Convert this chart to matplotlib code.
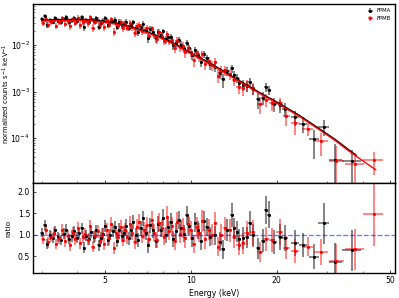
import numpy as np
import matplotlib
matplotlib.use('Agg')
import matplotlib.pyplot as plt
from matplotlib.ticker import FixedLocator, NullFormatter, FormatStrFormatter, LogLocator

plt.rcParams['font.size'] = 9

# model curves (keV, counts s^-1 keV^-1)
model_e_a = [3.0, 3.5, 4.0, 4.5, 5.0, 5.5, 6.0, 7.0, 8.0, 9.0, 10.0, 12.0, 14.0, 16.0, 18.0,
             20.0, 24.0, 28.0, 32.0, 36.0, 38.0]
model_a = [0.0340, 0.0350, 0.0352, 0.0345, 0.0320, 0.0290, 0.0258, 0.0195, 0.0140, 0.0098,
           0.0068, 0.0037, 0.0021, 0.00130, 0.00085, 0.00060, 0.00031, 0.000165, 0.000095,
           0.000055, 0.000043]
model_e_b = [3.0, 3.5, 4.0, 4.5, 5.0, 5.5, 6.0, 7.0, 8.0, 9.0, 10.0, 12.0, 14.0, 16.0, 18.0,
             20.0, 24.0, 28.0, 32.0, 36.0, 40.0, 44.5]
model_b = [0.0325, 0.0334, 0.0336, 0.0329, 0.0305, 0.0277, 0.0246, 0.0186, 0.0134, 0.0094,
           0.0065, 0.00354, 0.00201, 0.00124, 0.00081, 0.00057, 0.000295, 0.000157, 0.000090,
           0.000052, 0.000033, 0.000021]

# FPMA (black)
e_a1 = [3.00, 3.07, 3.14, 3.21, 3.28, 3.35, 3.42, 3.50, 3.58, 3.66, 3.74, 3.82, 3.90, 3.98, 4.06,
        4.14, 4.22, 4.30, 4.39, 4.48, 4.57, 4.66, 4.75, 4.84, 4.93, 5.02, 5.12, 5.22, 5.32, 5.42,
        5.52, 5.62, 5.72]
e_a2 = [5.83, 5.94, 6.05, 6.17, 6.29, 6.41, 6.54, 6.67, 6.80, 6.94, 7.08, 7.22, 7.37, 7.52, 7.67,
        7.83, 7.99, 8.16, 8.33, 8.50, 8.68, 8.87, 9.06, 9.26, 9.46, 9.67, 9.89, 10.1, 10.35, 10.6,
        10.85, 11.1, 11.4, 11.7]
e_a3 = [12.2, 12.7, 13.0, 13.4, 13.9, 14.2, 14.5, 14.8, 15.3, 15.7, 16.1, 16.5, 17.2, 17.9, 18.3,
        18.8, 19.6, 20.6, 21.4, 23.2, 24.8, 27.0, 29.2, 32.1, 36.7]
r_a1 = [1.05, 1.22, 0.78, 1.00, 0.92, 1.10, 0.95, 0.88, 1.02, 1.12, 0.90, 0.97, 1.08, 0.93, 1.04,
        1.15, 0.70, 0.98, 0.90, 1.06, 0.95, 1.10, 0.75, 0.92, 1.02, 1.20, 0.88, 1.00, 1.08, 1.18,
        0.85, 1.12, 0.96]
r_a2 = [1.05, 1.20, 0.92, 1.10, 1.30, 1.00, 0.88, 1.15, 1.38, 1.05, 0.75, 1.22, 1.10, 0.85, 1.25,
        1.12, 1.40, 1.00, 1.18, 1.30, 0.90, 1.08, 1.35, 1.15, 1.02, 1.45, 1.20, 0.92, 1.28, 1.10,
        0.85, 1.32, 1.18, 0.95]
r_a3 = [0.99, 0.84, 0.66, 1.11, 1.46, 1.15, 1.07, 0.89, 0.92, 0.94, 1.27, 0.99, 0.68, 0.86, 1.57,
        1.47, 0.84, 0.95, 0.92, 0.81, 0.76, 0.49, 1.27, 0.37, 0.64]
dr_a1 = [0.11, 0.12, 0.11, 0.12, 0.12, 0.11, 0.12, 0.12, 0.13, 0.12, 0.12, 0.13, 0.12, 0.13, 0.12,
         0.13, 0.13, 0.12, 0.13, 0.13, 0.14, 0.13, 0.13, 0.14, 0.13, 0.14, 0.14, 0.13, 0.14, 0.15,
         0.14, 0.15, 0.14]
dr_a2 = [0.15, 0.16, 0.15, 0.16, 0.17, 0.16, 0.16, 0.17, 0.18, 0.17, 0.17, 0.18, 0.18, 0.17, 0.19,
         0.18, 0.20, 0.19, 0.19, 0.20, 0.19, 0.20, 0.21, 0.20, 0.20, 0.22, 0.21, 0.20, 0.22, 0.21,
         0.21, 0.23, 0.22, 0.22]
dr_a3 = [0.22, 0.23, 0.22, 0.25, 0.28, 0.25, 0.25, 0.24, 0.25, 0.25, 0.28, 0.27, 0.25, 0.27, 0.33,
         0.32, 0.28, 0.30, 0.30, 0.30, 0.28, 0.30, 0.48, 0.43, 0.48]
de_a1 = [0.035] * 7 + [0.04] * 11 + [0.045] * 8 + [0.05] * 7
de_a2 = [0.055, 0.055, 0.06, 0.06, 0.06, 0.06, 0.065, 0.065, 0.07, 0.07, 0.07, 0.075, 0.075, 0.075,
         0.08, 0.08, 0.08, 0.085, 0.085, 0.09, 0.09, 0.095, 0.1, 0.1, 0.1, 0.11, 0.11, 0.12, 0.12,
         0.12, 0.12, 0.14, 0.15, 0.15]
de_a3 = [0.2, 0.2, 0.2, 0.22, 0.22, 0.15, 0.15, 0.2, 0.22, 0.2, 0.2, 0.25, 0.3, 0.25, 0.2, 0.3,
         0.4, 0.45, 0.5, 0.8, 0.8, 1.1, 1.3, 1.7, 2.7]

# FPMB (red)
e_b1 = [3.03, 3.10, 3.17, 3.24, 3.31, 3.38, 3.46, 3.54, 3.62, 3.70, 3.78, 3.86, 3.94, 4.02, 4.10,
        4.18, 4.26, 4.35, 4.44, 4.53, 4.62, 4.71, 4.80, 4.89, 4.98, 5.07, 5.17, 5.27, 5.37, 5.47,
        5.57, 5.67, 5.77]
e_b2 = [5.88, 5.99, 6.11, 6.23, 6.35, 6.47, 6.60, 6.73, 6.87, 7.01, 7.15, 7.30, 7.45, 7.60, 7.75,
        7.91, 8.07, 8.24, 8.41, 8.59, 8.77, 8.96, 9.16, 9.36, 9.56, 9.78, 10.0, 10.22, 10.47, 10.72,
        10.97, 11.25, 11.55, 11.85]
e_b3 = [12.2, 12.5, 12.8, 13.2, 13.7, 14.2, 14.7, 15.2, 15.7, 16.5, 17.5, 18.4, 19.3, 20.5, 21.6,
        23.2, 25.7, 28.6, 32.4, 37.6, 43.7]
r_b1 = [0.90, 1.10, 0.82, 0.95, 1.05, 0.78, 0.92, 1.12, 0.85, 0.98, 0.75, 1.05, 0.90, 1.15, 0.80,
        0.95, 1.02, 0.88, 1.20, 0.72, 0.96, 1.08, 0.85, 1.00, 0.78, 1.12, 0.92, 1.25, 0.68, 1.05,
        0.95, 1.18, 0.88]
r_b2 = [1.12, 0.95, 1.25, 1.05, 0.82, 1.18, 1.30, 0.98, 1.10, 1.22, 0.90, 1.35, 1.05, 0.88, 1.28,
        1.15, 0.95, 1.42, 1.08, 1.20, 0.85, 1.30, 1.02, 1.15, 0.92, 1.25, 1.10, 0.78, 1.18, 1.05,
        1.32, 0.90, 1.12, 1.00]
r_b3 = [1.27, 0.72, 0.99, 1.15, 1.10, 0.95, 0.76, 0.80, 1.03, 1.06, 0.60, 0.89, 0.88, 1.07, 0.70,
        0.63, 0.72, 0.60, 0.39, 0.66, 1.48]
dr_b1 = [0.12, 0.13, 0.12, 0.13, 0.13, 0.12, 0.13, 0.14, 0.13, 0.13, 0.12, 0.14, 0.13, 0.14, 0.13,
         0.14, 0.14, 0.13, 0.15, 0.13, 0.14, 0.15, 0.14, 0.15, 0.14, 0.15, 0.15, 0.16, 0.14, 0.16,
         0.15, 0.16, 0.15]
dr_b2 = [0.16, 0.16, 0.18, 0.17, 0.16, 0.18, 0.19, 0.18, 0.19, 0.20, 0.18, 0.21, 0.20, 0.19, 0.22,
         0.21, 0.20, 0.24, 0.21, 0.22, 0.20, 0.24, 0.22, 0.23, 0.22, 0.24, 0.23, 0.21, 0.24, 0.23,
         0.25, 0.23, 0.25, 0.24]
dr_b3 = [0.27, 0.22, 0.25, 0.27, 0.27, 0.26, 0.24, 0.25, 0.28, 0.29, 0.24, 0.28, 0.28, 0.30, 0.27,
         0.28, 0.22, 0.31, 0.40, 0.48, 0.75]
de_b1 = [0.035] * 6 + [0.04] * 11 + [0.045] * 8 + [0.05] * 8
de_b2 = de_a2
de_b3 = [0.15, 0.15, 0.2, 0.22, 0.25, 0.25, 0.25, 0.25, 0.3, 0.35, 0.4, 0.45, 0.45, 0.55, 0.6,
         0.8, 1.1, 1.6, 1.9, 2.9, 3.5]

detectors = [
    ('FPMA', 'k', e_a1 + e_a2 + e_a3, r_a1 + r_a2 + r_a3, dr_a1 + dr_a2 + dr_a3,
     de_a1 + de_a2 + de_a3, model_e_a, model_a),
    ('FPMB', 'r', e_b1 + e_b2 + e_b3, r_b1 + r_b2 + r_b3, dr_b1 + dr_b2 + dr_b3,
     de_b1 + de_b2 + de_b3, model_e_b, model_b),
]

fig = plt.figure(figsize=(6.4, 4.78), dpi=62.35)
ax1 = fig.add_axes([0.083, 0.385, 0.907, 0.6026])
ax2 = fig.add_axes([0.083, 0.083, 0.907, 0.302], sharex=ax1)

for name, col, en, rat, drat, den, me, mv in detectors:
    en = np.array(en)
    rat = np.array(rat)
    drat = np.array(drat)
    # counts = ratio * model at each bin
    mod = 10 ** np.interp(np.log10(en), np.log10(me), np.log10(mv))
    eb = ax1.errorbar(en, rat * mod, yerr=drat * mod, xerr=den, fmt='o', ms=2.5, color=col,
                      elinewidth=1.8, capsize=0, label=name, zorder=2)
    for c in eb[2]:
        c.set_alpha(0.6)
    eb = ax2.errorbar(en, rat, yerr=drat, xerr=den, fmt='o', ms=2.5, color=col,
                      elinewidth=1.8, capsize=0, zorder=2)
    for c in eb[2]:
        c.set_alpha(0.6)

for name, col, en, rat, drat, den, me, mv in detectors:
    ax1.plot(me, mv, color=col, lw=1.6, zorder=3)

ax2.axhline(1.0, color='b', ls='--', lw=1.5, alpha=0.55, zorder=3)

ax1.set_xscale('log')
ax1.set_yscale('log')
ax1.set_xlim(2.8, 52)
ax1.set_ylim(1.08e-5, 0.077)
ax2.set_ylim(0.1, 2.2)

ax2.xaxis.set_major_locator(FixedLocator([5, 10, 20, 50]))
ax2.xaxis.set_major_formatter(FormatStrFormatter('%g'))
ax2.xaxis.set_minor_locator(LogLocator(subs=np.arange(2, 10)))
ax2.xaxis.set_minor_formatter(NullFormatter())
ax2.set_yticks([0.5, 1.0, 1.5, 2.0])
plt.setp(ax1.get_xticklabels(), visible=False)

for ax in (ax1, ax2):
    ax.tick_params(which='both', direction='in')
    for s in ax.spines.values():
        s.set_linewidth(1.6)

ax1.set_ylabel('normalized counts s$^{-1}$ keV$^{-1}$', fontsize=8)
ax2.set_ylabel('ratio', fontsize=8.5)
ax1.yaxis.set_label_coords(-0.057, 0.5)
ax2.yaxis.set_label_coords(-0.060, 0.5)
ax2.set_xlabel('Energy (keV)')
ax1.legend(loc='upper right', frameon=False, fontsize=6, handlelength=1, handletextpad=0.6)

fig.savefig('out.png', dpi=62.35)
